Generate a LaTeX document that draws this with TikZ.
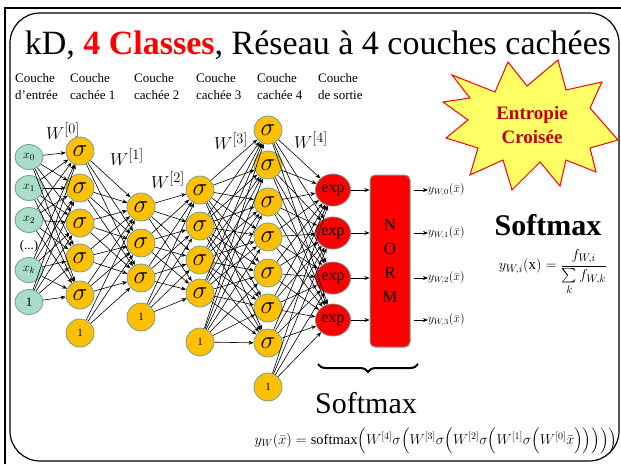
\documentclass[tikz,border=0pt]{standalone}
\usepackage{amsmath}
\usepackage{fontspec}
\setmainfont{Liberation Serif}
\usetikzlibrary{arrows.meta, positioning, shapes.geometric, decorations.pathreplacing, calc}
\definecolor{nnorange}{RGB}{255,192,0}
\definecolor{nnteal}{RGB}{168,222,200}
\definecolor{nnedge}{RGB}{110,160,150}
\definecolor{nngray}{RGB}{128,128,128}
\definecolor{darkred}{RGB}{192,0,0}
\definecolor{starfill}{RGB}{255,255,102}
\tikzset{
  innode/.style={ellipse, draw=nnedge, fill=nnteal, minimum width=28pt, minimum height=25pt,
      inner sep=0pt, line width=0.8pt, font=\fontsize{13}{13}\selectfont},
  hidnode/.style={circle, draw=nnedge, fill=nnorange, minimum size=28pt, inner sep=0pt,
      line width=0.8pt, font=\fontsize{24}{24}\selectfont},
  biasnode/.style={hidnode, font=\fontsize{11}{11}\selectfont},
  expnode/.style={ellipse, draw=nngray, fill=red, minimum width=35pt, minimum height=32pt,
      inner sep=0pt, line width=0.8pt, font=\fontsize{16}{16}\selectfont},
  normbox/.style={draw=nnedge, fill=red, rounded corners=5pt, minimum width=40pt, minimum height=172pt,
      line width=1pt, align=center, font=\fontsize{17}{24}\selectfont},
  wire/.style={-{Stealth[length=5pt,width=4pt]}, line width=0.6pt},
  lyrlbl/.style={anchor=north west, align=left, font=\fontsize{13}{17}\selectfont, inner sep=0pt},
  wlbl/.style={font=\fontsize{19}{19}\selectfont, inner sep=0pt},
  outlbl/.style={anchor=west, inner sep=0pt, font=\fontsize{12}{12}\selectfont},
}

\begin{document}
\begin{tikzpicture}[x=1pt, y=-1pt]
  \useasboundingbox (0,0) rectangle (621,464);
  % frame
  \draw[line width=1.2pt] (5,464) -- (5,8) -- (621,8);
  \draw[line width=1.2pt, rounded corners=30pt] (10,13) rectangle (619,461);

  \node[font=\fontsize{34}{34}\selectfont] (title) at (318,45)
      {kD, \textcolor{red}{\textbf{4 Classes}}, Réseau à 4 couches cachées};

  % layer titles
  \node[lyrlbl] (lblin) at (15,73) {Couche\\d’entrée};
  \node[lyrlbl] (lbla) at (70,73) {Couche\\cachée 1};
  \node[lyrlbl] (lblb) at (134,73) {Couche\\cachée 2};
  \node[lyrlbl] (lblc) at (196,73) {Couche\\cachée 3};
  \node[lyrlbl] (lbld) at (257,73) {Couche\\cachée 4};
  \node[lyrlbl] (lble) at (318,73) {Couche\\de sortie};

  % input layer
  \foreach \n/\y/\t in {1/157/$x_0$, 2/188/$x_1$, 3/220/$x_2$, 4/270/$x_k$, 5/302/1}
    \node[innode] (in\n) at (29,\y) {\t};
  \node[font=\fontsize{13}{13}\selectfont] (indots) at (29,246) {(...)};

  % hidden layers
  \foreach \n/\y in {1/151, 2/188, 3/223, 4/258, 5/295}
    \node[hidnode] (a\n) at (80,\y) {$\sigma$};
  \node[biasnode] (a6) at (80,333) {1};
  \foreach \n/\y in {1/207, 2/243, 3/278}
    \node[hidnode] (b\n) at (141,\y) {$\sigma$};
  \node[biasnode] (b4) at (141,317) {1};
  \foreach \n/\y in {1/190, 2/226, 3/260, 4/293}
    \node[hidnode] (c\n) at (200,\y) {$\sigma$};
  \node[biasnode] (c5) at (200,342) {1};
  \foreach \n/\y in {1/130, 2/165, 3/202, 4/237, 5/273, 6/308, 7/343}
    \node[hidnode] (d\n) at (268,\y) {$\sigma$};
  \node[biasnode] (d8) at (268,387) {1};

  % output layer
  \foreach \n/\y in {1/190, 2/233, 3/278, 4/320}
    \node[expnode] (e\n) at (333,\y) {exp};
  \node[normbox] (norm) at (390,261) {N\\O\\R\\M};

  % weights
  \node[wlbl] (w0) at (63,131) {$W^{[0]}$};
  \node[wlbl] (w1) at (127,157) {$W^{[1]}$};
  \node[wlbl] (w2) at (168,180) {$W^{[2]}$};
  \node[wlbl] (w3) at (231,141) {$W^{[3]}$};
  \node[wlbl] (w4) at (311,140) {$W^{[4]}$};

  % connections
  \foreach \s in {1,...,5} \foreach \t in {1,...,5} \draw[wire] (in\s) -- (a\t);
  \foreach \s in {1,...,6} \foreach \t in {1,...,3} \draw[wire] (a\s) -- (b\t);
  \foreach \s in {1,...,4} \foreach \t in {1,...,4} \draw[wire] (b\s) -- (c\t);
  \foreach \s in {1,...,5} \foreach \t in {1,...,7} \draw[wire] (c\s) -- (d\t);
  \foreach \s in {1,...,8} \foreach \t in {1,...,4} \draw[wire] (d\s) -- (e\t);

  \foreach \n/\i/\y in {1/0/190, 2/1/233, 3/2/278, 4/3/320} {
    \draw[wire] (e\n) -- (e\n -| norm.west);
    \node[outlbl] (y\i) at (428,\y) {$y_{W,\i}(\bar{x})$};
    \draw[wire] ($(norm.east |- y\i.west)+(3,0)$) -- (y\i.west);
  }

  % softmax brace
  \draw[decorate, decoration={brace, amplitude=8pt, mirror}, line width=2pt]
      (318,364) -- (418,364);
  \node[font=\fontsize{30}{30}\selectfont] (softlbl) at (366,403) {Softmax};

  % explosion
  \draw[draw=red, fill=starfill, line width=1pt]
      (452,75) -- (495,92) -- (508,62) -- (527,86) -- (558,60) -- (566,90) -- (602,82)
      -- (590,108) -- (618,140) -- (590,148) -- (596,172) -- (566,160) -- (560,186)
      -- (540,162) -- (512,190) -- (503,160) -- (470,175) -- (478,148) -- (446,138)
      -- (468,120) -- (443,102) -- (470,98) -- cycle;
  \node[align=center, text=darkred, font=\fontsize{19}{24}\selectfont\bfseries] (entropie)
      at (532,125) {Entropie\\Croisée};

  % softmax formula
  \node[font=\fontsize{30}{30}\selectfont\bfseries] (softtitle) at (548,225) {Softmax};
  \node[font=\fontsize{15}{15}\selectfont] (softeq) at (553,272)
      {$y_{W,i}(\mathrm{x})=\dfrac{f_{W,i}}{\sum\limits_{k} f_{W,k}}$};

  \node[font=\fontsize{14.5}{14.5}\selectfont] (neteq) at (436,441)
      {$y_W(\bar{x}) = \text{softmax}\Bigl(W^{[4]}\sigma\Bigl(W^{[3]}\sigma\Bigl(W^{[2]}\sigma\Bigl(W^{[1]}\sigma\Bigl(W^{[0]}\bar{x}\Bigr)\Bigr)\Bigr)\Bigr)\Bigr)$};
\end{tikzpicture}
\end{document}
